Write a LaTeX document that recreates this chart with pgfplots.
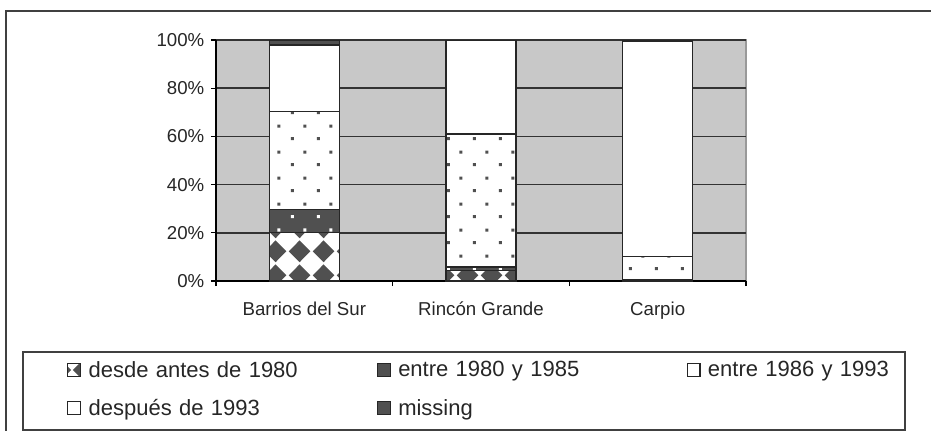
\documentclass[border=0pt]{standalone}
\usepackage{fontspec}
\setmainfont{Liberation Sans}
\usepackage{pgfplots}
\pgfplotsset{compat=1.18}
\usetikzlibrary{patterns}

\definecolor{dk}{RGB}{80,80,80}
\definecolor{bg}{RGB}{200,200,200}

\pgfdeclarepatternformonly{mydots}{\pgfqpoint{0pt}{0pt}}{\pgfqpoint{19.5pt}{19.5pt}}{\pgfqpoint{19.5pt}{19.5pt}}{%
  \pgfpathrectangle{\pgfqpoint{3.7pt}{3.7pt}}{\pgfqpoint{2.4pt}{2.4pt}}%
  \pgfpathrectangle{\pgfqpoint{13.45pt}{13.45pt}}{\pgfqpoint{2.4pt}{2.4pt}}%
  \pgfusepath{fill}%
}
\pgfdeclarepatternformonly{diamonds}{\pgfqpoint{0pt}{0pt}}{\pgfqpoint{18pt}{18pt}}{\pgfqpoint{18pt}{18pt}}{%
  \pgfpathmoveto{\pgfqpoint{0.6pt}{9pt}}%
  \pgfpathlineto{\pgfqpoint{9pt}{17.4pt}}%
  \pgfpathlineto{\pgfqpoint{17.4pt}{9pt}}%
  \pgfpathlineto{\pgfqpoint{9pt}{0.6pt}}%
  \pgfpathclose
  \pgfusepath{fill}%
}

\begin{document}
\begin{tikzpicture}
\useasboundingbox (-162pt,-111.75pt) rectangle (536.25pt,210.75pt);
\begin{axis}[
  scale only axis, width=397.5pt, height=180.75pt,
  xmin=-0.5, xmax=2.5, ymin=0, ymax=100,
  ybar stacked, bar width=52.5pt,
  axis background/.style={fill=bg, draw=black!40, line width=1pt},
  axis x line*=bottom, axis y line*=left,
  axis line style={black, line width=1pt},
  tick align=outside, major tick length=3.75pt,
  tick style={black, line width=1pt},
  ymajorgrids, major grid style={line width=1.1pt, color=black!80},
  ytick={0,20,40,60,80,100},
  yticklabel={\pgfmathprintnumber{\tick}\%},
  yticklabel style={xshift=-1.5pt},
  xtick={-0.5,0.5,1.5,2.5}, xticklabels={,,,,},
  extra x ticks={0,1,2},
  extra x tick labels={Barrios del Sur, Rincón Grande, Carpio},
  extra x tick style={major tick length=0pt, xticklabel style={yshift=-12pt}},
  ticklabel style={font=\fontsize{14}{16}\selectfont, text=black!85},
  /pgf/number format/assume math mode=true,
  legend columns=3,
  legend cell align=left,
  legend image code/.code={\draw[#1] (0pt,-4.8pt) rectangle (9.6pt,4.8pt);},
  legend style={draw=none, fill=none, inner sep=0pt,
    at={(-0.28113,-0.29046)}, anchor=north west,
    font=\fontsize{16.5}{18}\selectfont, text=black!85,
    nodes={inner xsep=0pt, inner ysep=0pt, text width=210pt, minimum height=28.5pt},
    /tikz/every odd column/.append style={column sep=5.5pt},
    /tikz/every even column/.append style={column sep=6.25pt},
    row sep=0pt},
]
\addplot[draw=black!85, line width=0.9pt, preaction={fill=white}, pattern=diamonds, pattern color=dk]
  coordinates {(0,20.2) (1,4.3) (2,0.4)};
\addlegendentry{desde antes de 1980}
\addplot[draw=black!85, line width=0.9pt, preaction={fill=dk}, pattern=mydots, pattern color=white]
  coordinates {(0,9.55) (1,1.5) (2,0.3)};
\addlegendentry{entre 1980 y 1985}
\addplot[draw=black!85, line width=0.9pt, preaction={fill=white}, pattern=mydots, pattern color=dk]
  coordinates {(0,40.5) (1,55.2) (2,9.4)};
\addlegendentry{entre 1986 y 1993}
\addplot[draw=black!85, line width=0.9pt, fill=white]
  coordinates {(0,27.65) (1,39.0) (2,89.3)};
\addlegendentry{después de 1993}
\addplot[draw=black!85, line width=0.9pt, fill=dk]
  coordinates {(0,2.1) (1,0) (2,0.6)};
\addlegendentry{missing}
\end{axis}
\draw[line width=1.5pt, black!75] (-157.5pt,-120pt) -- (-157.5pt,202.5pt) -- (545pt,202.5pt);
\draw[line width=1.2pt, black!75] (-144.75pt,-111.75pt) rectangle (516.75pt,-53.25pt);
\end{tikzpicture}
\end{document}
